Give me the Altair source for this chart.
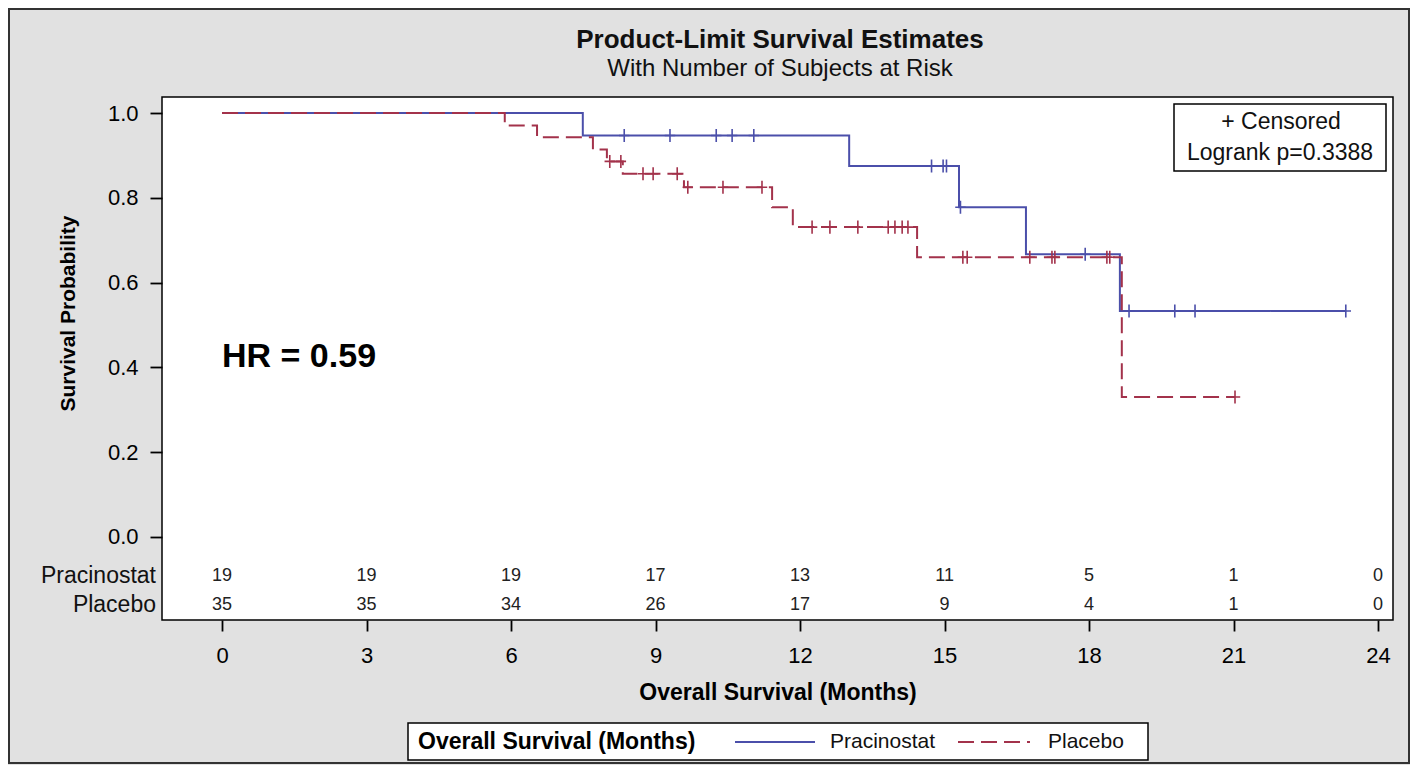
import altair as alt
import pandas as pd

# ---------------- data ----------------
groups = ["Pracinostat", "Placebo"]
colors = ["#4b4faa", "#a3324b"]

prac_times = [0.0, 7.49, 13.02, 15.30, 16.69, 18.64]
prac_surv = [1.0, 0.947, 0.875, 0.778, 0.667, 0.533]
prac_last = 23.33
prac_censor = [8.35, 9.30, 10.26, 10.59, 11.04, 14.73, 14.97, 15.04, 15.33,
               17.92, 18.83, 19.78, 20.20, 23.33]

plac_times = [0.0, 5.87, 6.54, 7.70, 7.99, 8.32, 9.59, 11.42, 11.85, 14.43, 18.68]
plac_surv = [1.0, 0.971, 0.943, 0.914, 0.886, 0.857, 0.825, 0.778, 0.731, 0.660, 0.330]
plac_last = 21.03
plac_censor = [8.05, 8.28, 8.74, 8.95, 9.45, 9.67, 10.40, 11.21, 12.25, 12.62,
               13.20, 13.83, 13.97, 14.12, 14.24, 15.38, 15.47, 16.77, 17.23,
               17.29, 18.37, 18.43, 21.03]

risk_times = [0, 3, 6, 9, 12, 15, 18, 21, 24]
prac_risk = [19, 19, 19, 17, 13, 11, 5, 1, 0]
plac_risk = [35, 35, 34, 26, 17, 9, 4, 1, 0]

x_ticks = [0, 3, 6, 9, 12, 15, 18, 21, 24]
y_ticks = [0.0, 0.2, 0.4, 0.6, 0.8, 1.0]

title_text = "Product-Limit Survival Estimates"
subtitle_text = "With Number of Subjects at Risk"
x_title = "Overall Survival (Months)"
y_title = "Survival Probability"
legend_title = "Overall Survival (Months)"
hr_text = "HR = 0.59"
box_lines = ["+ Censored", "Logrank p=0.3388"]

# ---------------- tables ----------------
def step_rows(name, times, surv, last):
    rows = [{"group": name, "t": t, "s": s} for t, s in zip(times, surv)]
    rows.append({"group": name, "t": last, "s": surv[-1]})
    return rows

def censor_rows(name, times, surv, cens):
    rows = []
    for c in cens:
        s = surv[0]
        for t, v in zip(times, surv):
            if t <= c:
                s = v
        rows.append({"group": name, "t": c, "s": s})
    return rows

step_df = pd.DataFrame(step_rows(groups[0], prac_times, prac_surv, prac_last)
                       + step_rows(groups[1], plac_times, plac_surv, plac_last))
cens_df = pd.DataFrame(censor_rows(groups[0], prac_times, prac_surv, prac_censor)
                       + censor_rows(groups[1], plac_times, plac_surv, plac_censor))
risk1 = pd.DataFrame({"t": risk_times, "n": prac_risk})
risk2 = pd.DataFrame({"t": risk_times, "n": plac_risk})
one = pd.DataFrame({"a": [0]})

# ---------------- layout ----------------
W, H = 1231, 523
FONT = "Liberation Sans"

xscale = alt.Scale(domain=[-1.246, 24.31], nice=False, zero=False)
yscale = alt.Scale(domain=[-0.196, 1.038], nice=False, zero=False)
cscale = alt.Scale(domain=groups, range=colors)
dscale = alt.Scale(domain=groups, range=[[1, 0], [16, 7]])

xaxis = alt.Axis(values=x_ticks, title=x_title, grid=False,
                 domain=False, tickSize=11, tickColor="black", tickWidth=1.8,
                 labelFontSize=22, labelColor="black", labelPadding=14,
                 titleFontSize=23, titleFontWeight="bold", titleColor="black",
                 titleY=72, titleBaseline="middle", labelFlush=False)
yaxis = alt.Axis(values=y_ticks, format=".1f", title=y_title,
                 grid=False, domain=False, tickSize=12, tickColor="black",
                 tickWidth=1.8, labelFontSize=22, labelColor="black",
                 labelPadding=12, titleFontSize=21, titleFontWeight="bold",
                 titleColor="black", titleX=-94, titleY=216,
                 titleBaseline="middle", labelFlush=False)

def txt(text, x, y, size, weight="normal", align="center", color="black"):
    return alt.Chart(one).mark_text(
        fontSize=size, font=FONT, fontWeight=weight, align=align,
        baseline="middle", color=color
    ).encode(x=alt.value(x), y=alt.value(y), text=alt.value(text))

lines = alt.Chart(step_df).mark_line(interpolate="step-after", strokeWidth=2).encode(
    x=alt.X("t:Q", scale=xscale, axis=xaxis),
    y=alt.Y("s:Q", scale=yscale, axis=yaxis),
    color=alt.Color("group:N", scale=cscale, legend=None),
    strokeDash=alt.StrokeDash("group:N", scale=dscale, legend=None),
)

censors = alt.Chart(cens_df).mark_point(
    shape="M0,-1V1M-0.8,0H0.8", size=170, strokeWidth=1.6, filled=False, opacity=1
).encode(
    x="t:Q", y="s:Q",
    color=alt.Color("group:N", scale=cscale, legend=None),
)

risk_txt1 = alt.Chart(risk1).mark_text(fontSize=18, font=FONT, color="#222").encode(
    x="t:Q", y=alt.value(479), text="n:Q")
risk_txt2 = alt.Chart(risk2).mark_text(fontSize=18, font=FONT, color="#222").encode(
    x="t:Q", y=alt.value(508), text="n:Q")

row_lab1 = txt(groups[0], -6, 479, 23, align="right", color="#111")
row_lab2 = txt(groups[1], -6, 508, 23, align="right", color="#111")

hr = alt.Chart(one).mark_text(fontSize=34, font=FONT, fontWeight="bold",
                              align="left", baseline="middle", color="black").encode(
    x=alt.datum(0), y=alt.datum(0.425), text=alt.value(hr_text))

# inset box (censor key and log-rank p)
box = alt.Chart(one).mark_rect(fill="white", stroke="black", strokeWidth=1.5).encode(
    x=alt.value(1012), x2=alt.value(1224), y=alt.value(7), y2=alt.value(74))
box_t1 = txt(box_lines[0], 1119, 25, 23, color="#111")
box_t2 = txt(box_lines[1], 1118, 56, 23, color="#111")

# titles
t_main = txt(title_text, 618, -57, 26, weight="bold", color="#111")
t_sub = txt(subtitle_text, 618, -28, 24, color="#111")

# legend box at the bottom
leg_box = alt.Chart(one).mark_rect(fill="white", stroke="black", strokeWidth=1.5).encode(
    x=alt.value(246), x2=alt.value(986), y=alt.value(626), y2=alt.value(663))
leg_title = txt(legend_title, 256, 645, 23, weight="bold", align="left")
leg_line1 = alt.Chart(one).mark_rule(color=colors[0], strokeWidth=2).encode(
    x=alt.value(573), x2=alt.value(653), y=alt.value(645))
leg_line2 = alt.Chart(one).mark_rule(color=colors[1], strokeWidth=2,
                                     strokeDash=[16, 7]).encode(
    x=alt.value(796), x2=alt.value(868), y=alt.value(645))
leg_lab1 = txt(groups[0], 668, 645, 21, align="left", color="#111")
leg_lab2 = txt(groups[1], 886, 645, 21, align="left", color="#111")

frame = alt.Chart(one).mark_rect(fillOpacity=0, stroke="#333", strokeWidth=2).encode(
    x=alt.value(-153), x2=alt.value(W + 16), y=alt.value(-88), y2=alt.value(H + 143))

chart = alt.layer(
    frame, box, lines, censors, risk_txt1, risk_txt2, row_lab1, row_lab2, hr,
    box_t1, box_t2, t_main, t_sub, leg_box, leg_title, leg_line1, leg_line2,
    leg_lab1, leg_lab2,
).properties(
    width=W, height=H,
    padding={"left": 154, "top": 89, "right": 17, "bottom": 145},
    autosize=alt.AutoSizeParams(type="none"),
    background="#e1e1e1",
).configure(
    font=FONT
).configure_view(
    fill="white", stroke="black", strokeWidth=1.5
)

chart.save("out.html", embed_options={"renderer": "svg", "actions": False})
